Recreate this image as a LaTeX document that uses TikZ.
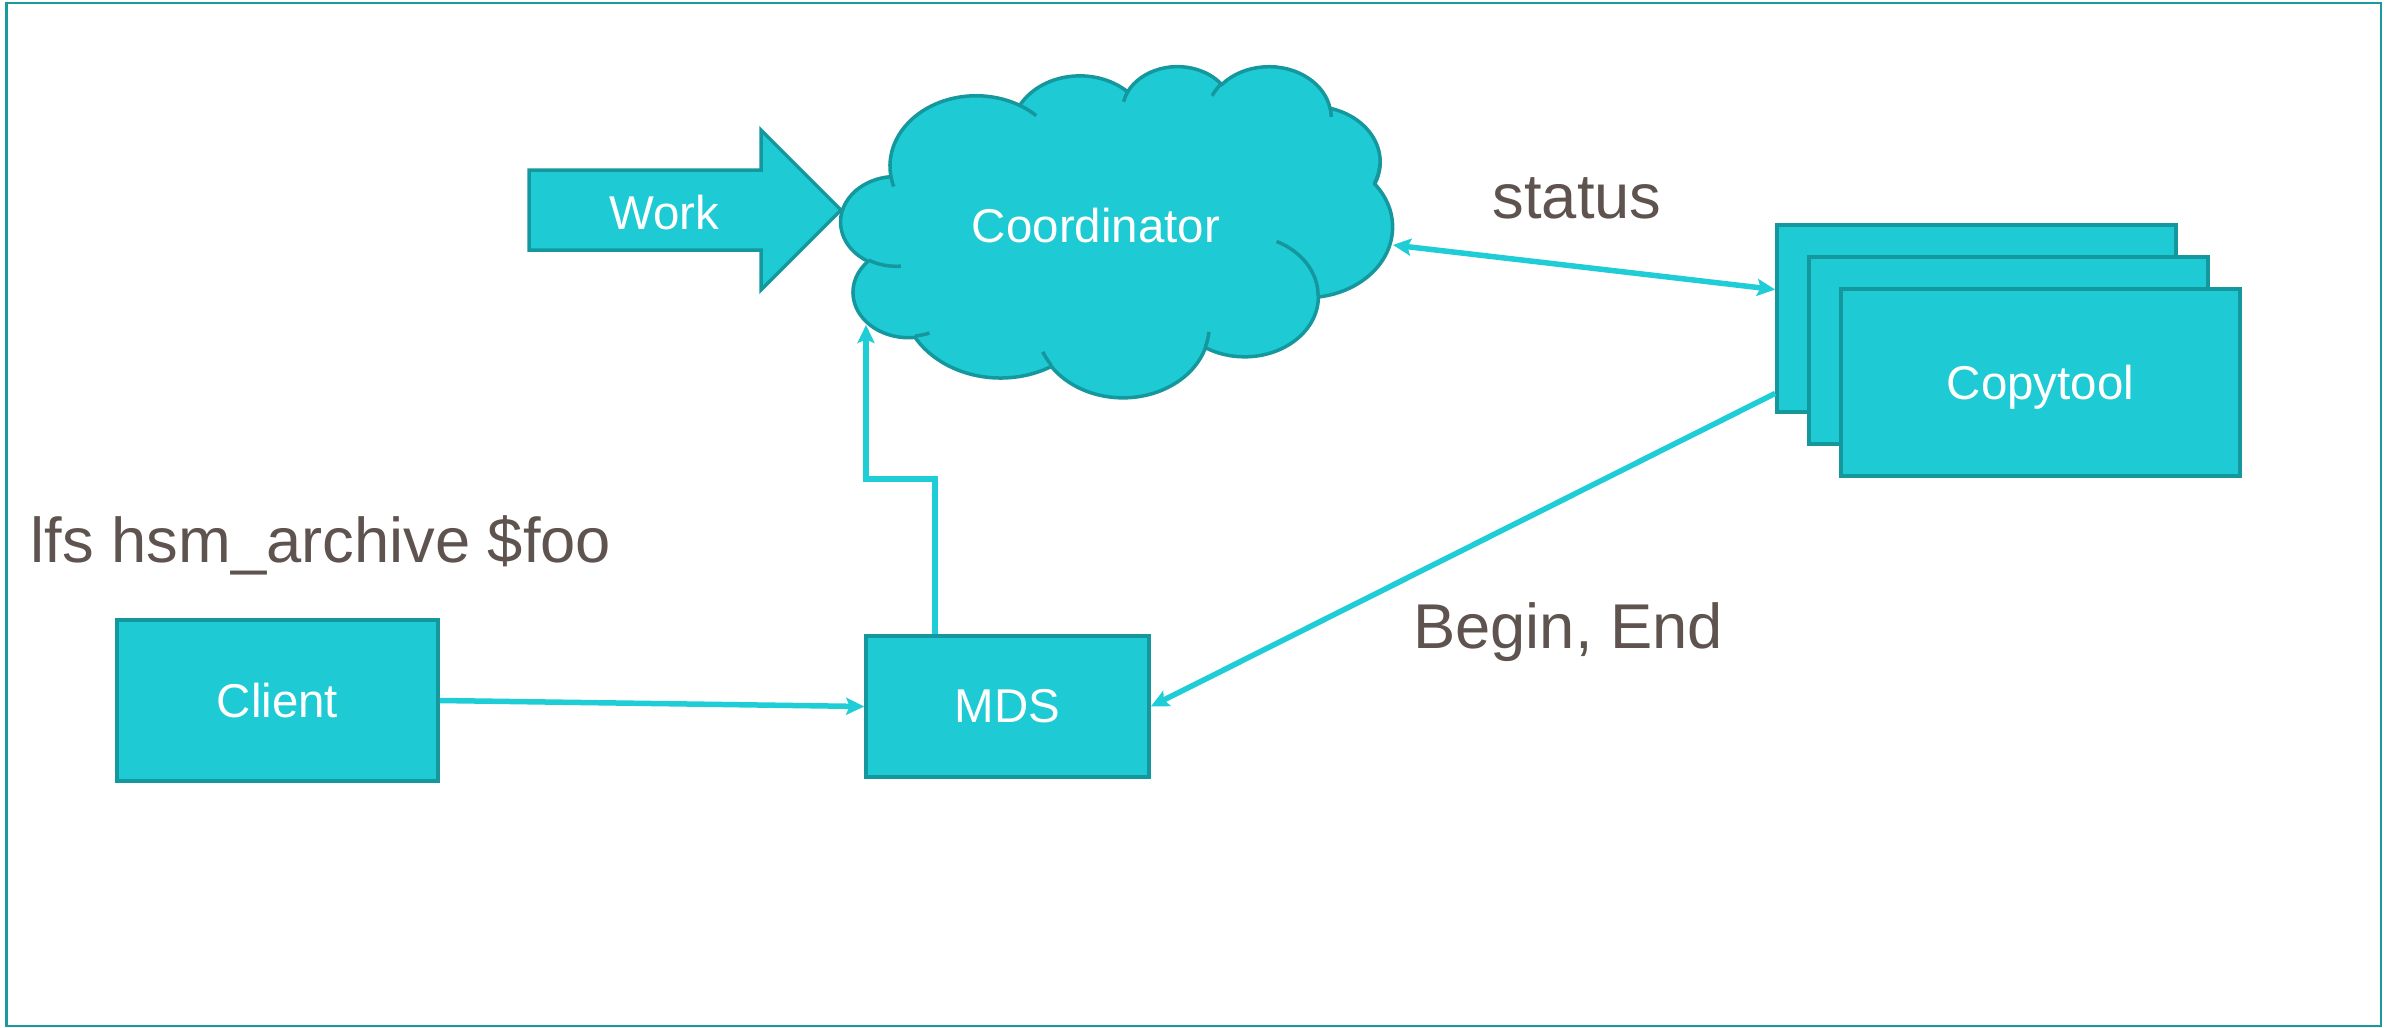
\documentclass[tikz,border=0pt]{standalone}
\usepackage{fontspec}
\setmainfont{Liberation Sans}
\usetikzlibrary{arrows.meta,calc}
\definecolor{boxfill}{RGB}{30,202,211}
\definecolor{boxline}{RGB}{20,152,158}
\definecolor{connc}{RGB}{30,205,214}
\definecolor{framec}{RGB}{26,154,158}
\definecolor{labc}{RGB}{94,83,79}
% convert an OOXML arc (visual angles) to TikZ parametric angles
\newcommand\cldconv[5]{%
  \pgfmathsetmacro\cldtmpa{atan2((#2)*sin(#4),(#3)*cos(#4))}%
  \pgfmathsetmacro\cldtmpb{atan2((#2)*sin((#4)+(#5)),(#3)*cos((#4)+(#5)))}%
  \pgfmathsetmacro\cldtmpd{\cldtmpb-\cldtmpa}%
  \pgfmathsetmacro\cldtmpd{((#5)>0 && \cldtmpd<0) ? \cldtmpd+360 : (((#5)<0 && \cldtmpd>0) ? \cldtmpd-360 : \cldtmpd)}%
  \expandafter\let\csname cld#1s\endcsname\cldtmpa
  \expandafter\let\csname cld#1d\endcsname\cldtmpd
}
\begin{document}
\begin{tikzpicture}[x=0.01cm,y=-0.01cm,
  >={Stealth[length=0.18cm,width=0.17cm,inset=0.035cm]},
  shapeline/.style={draw=boxline, line width=0.035cm},
  box/.style={shapeline, fill=boxfill, inner sep=0pt, text=white,
    font=\fontsize{13.5}{16}\selectfont},
  wlab/.style={text=white, inner sep=0pt, font=\fontsize{13.5}{16}\selectfont},
  conn/.style={draw=connc, line width=0.055cm},
  lab/.style={text=labc, inner sep=0pt, anchor=base, font=\fontsize{18}{21.6}\selectfont}]
\useasboundingbox (0,0) rectangle (2397,1027);
\draw[framec, line width=0.028cm] (6.5,3) rectangle (2381,1026);

% Work block arrow
\draw[shapeline, fill=boxfill] (529,170) -- (761,170) -- (761,130) -- (841,210)
  -- (761,290) -- (761,250) -- (529,250) -- cycle;
\node[wlab] (work) at (664,212.5) {Work};

% Cloud (Coordinator)
\cldconv{A}{67.53}{91.90}{-190.4875}{123.7805}
\cldconv{B}{53.33}{72.67}{-144.1024}{89.9452}
\cldconv{C}{43.65}{59.45}{-145.8079}{99.7230}
\cldconv{D}{48.57}{65.95}{-130.9861}{117.2417}
\cldconv{E}{53.33}{72.73}{-78.7089}{109.0269}
\cldconv{F}{67.75}{92.20}{-46.2673}{130.2690}
\cldconv{G}{57.85}{78.67}{0.6250}{114.0333}
\cldconv{H}{67.52}{92.15}{22.4516}{115.1726}
\cldconv{I}{77.20}{105.43}{66.2426}{75.7110}
\cldconv{J}{43.60}{59.18}{-274.9421}{146.7356}
\cldconv{K}{43.45}{59.45}{-246.8285}{152.5189}
\cldconv{a}{43.45}{59.45}{86.7420}{26.4295}
\cldconv{b}{43.60}{59.18}{73.6105}{11.4475}
\cldconv{c}{67.52}{92.15}{137.6242}{14.0811}
\cldconv{d}{67.52}{92.15}{6.4533}{15.9984}
\cldconv{e}{57.85}{78.67}{-70.2924}{70.9174}
\cldconv{f}{53.33}{72.73}{30.3284}{-27.7657}
\cldconv{g}{48.57}{65.95}{-13.7443}{14.8604}
\cldconv{h}{48.57}{65.95}{-149.1815}{18.1976}
\cldconv{i}{43.65}{59.45}{-163.4943}{17.6916}
\cldconv{j}{67.53}{91.90}{-66.7070}{12.3194}
\cldconv{k}{67.53}{91.90}{157.6544}{11.8582}
\begin{scope}[shift={(8.405cm,-0.655cm)}, x=0.0127546cm, y=-0.00766204cm]
\path[shapeline, fill=boxfill] (39.00,143.70)
  arc[start angle=\cldAs, delta angle=\cldAd, x radius=67.53, y radius=91.90]
  arc[start angle=\cldBs, delta angle=\cldBd, x radius=53.33, y radius=72.67]
  arc[start angle=\cldCs, delta angle=\cldCd, x radius=43.65, y radius=59.45]
  arc[start angle=\cldDs, delta angle=\cldDd, x radius=48.57, y radius=65.95]
  arc[start angle=\cldEs, delta angle=\cldEd, x radius=53.33, y radius=72.73]
  arc[start angle=\cldFs, delta angle=\cldFd, x radius=67.75, y radius=92.20]
  arc[start angle=\cldGs, delta angle=\cldGd, x radius=57.85, y radius=78.67]
  arc[start angle=\cldHs, delta angle=\cldHd, x radius=67.52, y radius=92.15]
  arc[start angle=\cldIs, delta angle=\cldId, x radius=77.20, y radius=105.43]
  arc[start angle=\cldJs, delta angle=\cldJd, x radius=43.60, y radius=59.18]
  arc[start angle=\cldKs, delta angle=\cldKd, x radius=43.45, y radius=59.45]
  -- cycle;
\path[shapeline]
  (46.93,261.77) arc[start angle=\cldas, delta angle=\cldad, x radius=43.45, y radius=59.45]
  (69.28,348.99) arc[start angle=\cldbs, delta angle=\cldbd, x radius=43.60, y radius=59.18]
  (164.78,390.90) arc[start angle=\cldcs, delta angle=\cldcd, x radius=67.52, y radius=92.15]
  (288.27,347.51) arc[start angle=\cldds, delta angle=\clddd, x radius=67.52, y radius=92.15]
  (341.29,229.54) arc[start angle=\cldes, delta angle=\clded, x radius=57.85, y radius=78.67]
  (417.98,153.54) arc[start angle=\cldfs, delta angle=\cldfd, x radius=53.33, y radius=72.73]
  (383.24,54.26) arc[start angle=\cldgs, delta angle=\cldgd, x radius=48.57, y radius=65.95]
  (290.78,39.52) arc[start angle=\cldhs, delta angle=\cldhd, x radius=48.57, y radius=65.95]
  (221.41,47.20) arc[start angle=\cldis, delta angle=\cldid, x radius=43.65, y radius=59.45]
  (140.00,51.92) arc[start angle=\cldjs, delta angle=\cldjd, x radius=67.53, y radius=91.90]
  (41.27,157.89) arc[start angle=\cldks, delta angle=\cldkd, x radius=67.53, y radius=91.90];
\end{scope}
\node[wlab] (coord) at (1096,225.5) {Coordinator};

% Boxes
\node[box, minimum width=3.21cm, minimum height=1.61cm] (client) at (277.5,700.5) {Client};
\node[box, minimum width=2.83cm, minimum height=1.41cm] (mds) at (1007.5,706.5) {MDS};
\node[box, minimum width=3.99cm, minimum height=1.87cm] (ct1) at (1976.5,318.5) {};
\node[box, minimum width=3.99cm, minimum height=1.87cm] (ct2) at (2008.5,350.5) {};
\node[box, minimum width=3.99cm, minimum height=1.87cm, text depth=0pt] (ct3) at (2040.5,382.5) {Copytool};

% Labels
\node[lab, anchor=base west] (cmd) at (30,562) {lfs hsm\_archive \$foo};
\node[lab] (status) at (1577,218) {status};
\node[lab] (beginend) at (1568,648) {Begin, End};

% Connectors
\coordinate (stA) at (1393,245);
\coordinate (cldIn) at (866,325);
\coordinate (stB) at ($(ct1.north west)!0.348!(ct1.south west)$);
\coordinate (beA) at ($(ct1.north west)!0.893!(ct1.south west)$);
\coordinate (mdsTop) at ($(mds.north west)!0.247!(mds.north east)$);
\draw[conn,<->] (stA) -- (stB);
\draw[conn,->] (beA) -- (mds.east);
\draw[conn,->] (client.east) -- (mds.west);
\draw[conn,->] (mdsTop) -- ++(0,-155) -| (cldIn);
\end{tikzpicture}
\end{document}
